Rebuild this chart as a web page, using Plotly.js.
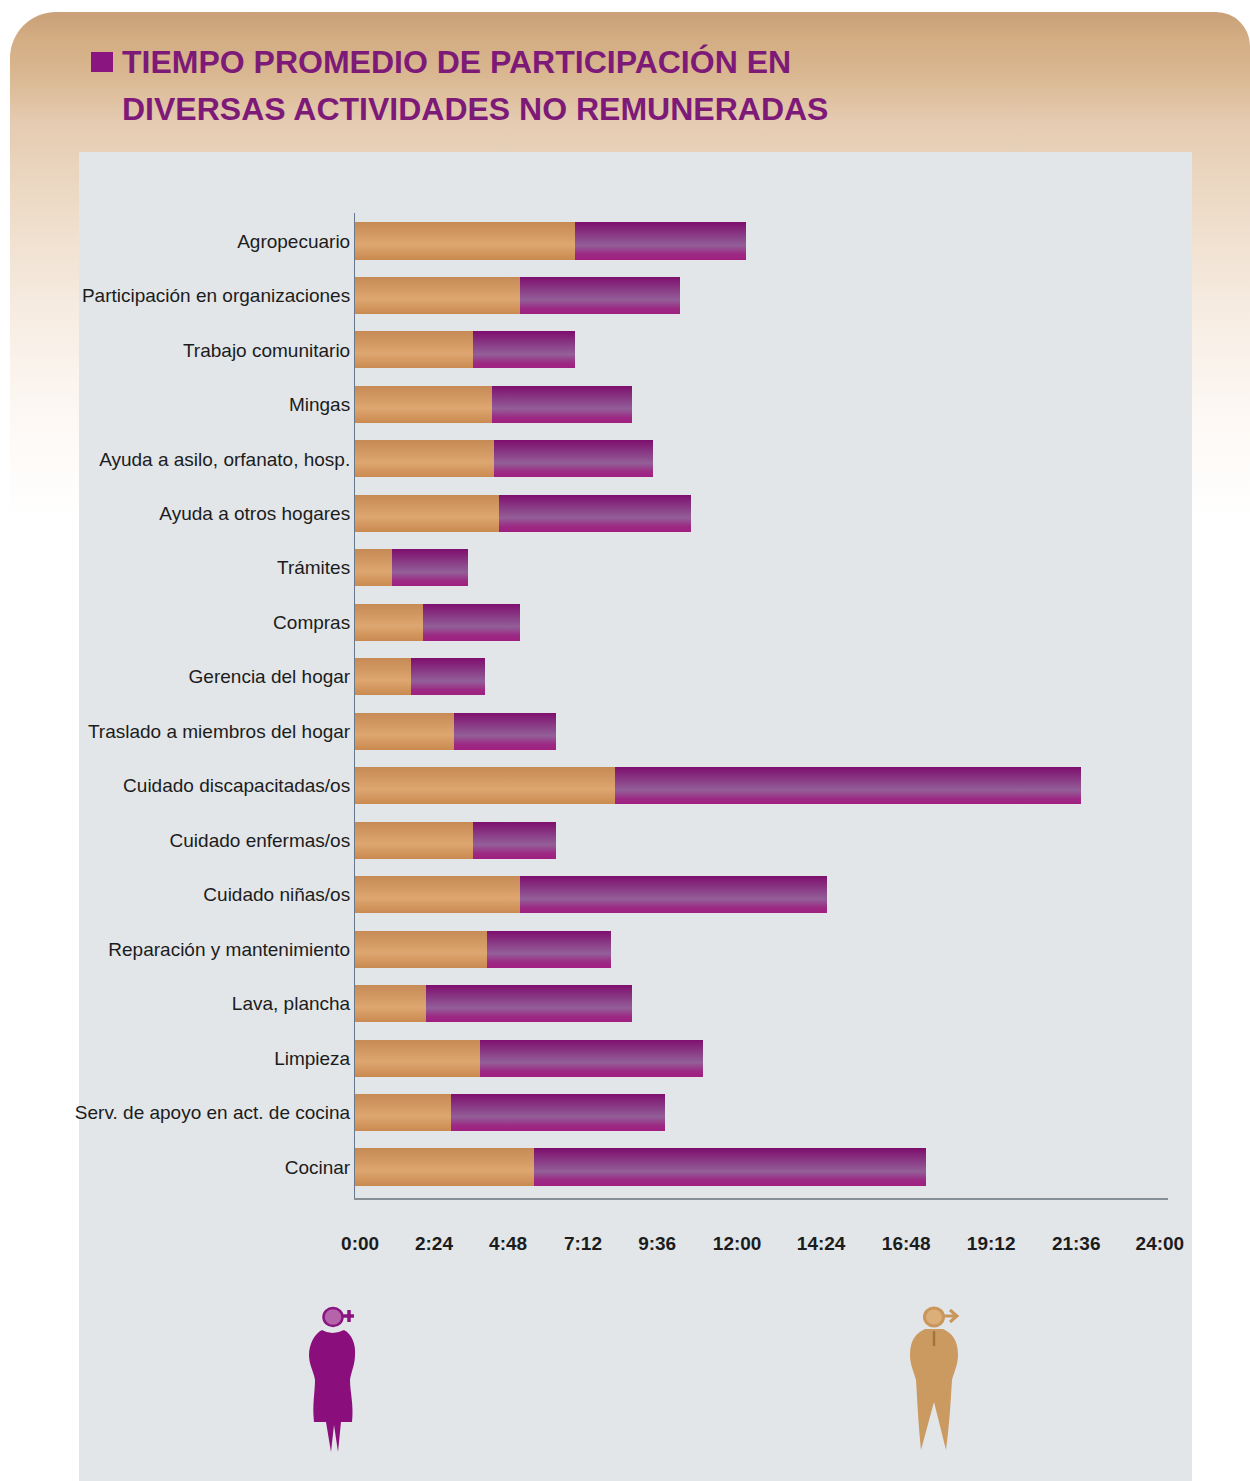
<!DOCTYPE html>
<html lang="es">
<head>
<meta charset="utf-8">
<title>Tiempo promedio de participación</title>
<script src="https://cdn.plot.ly/plotly-3.0.1.min.js"></script>
<style>
  html, body { margin: 0; padding: 0; background: #fff; }
  #page { position: relative; width: 1250px; height: 1481px; overflow: hidden; }
  #band { position: absolute; left: 10px; top: 12px; width: 1240px; height: 520px; border-radius: 46px 34px 0 0;
    background: linear-gradient(to bottom, #c9a079 0, #d3ac82 25px, #dab892 65px, #e5cbb1 110px, #ecd9c4 180px, #f6ebe0 290px, #fdf8f4 400px, #ffffff 510px); }
  #panel { position: absolute; left: 79px; top: 152px; width: 1113px; height: 1329px; background: #e2e6e9; }
  #bullet { position: absolute; left: 91px; top: 52px; width: 22px; height: 20px; background: #8a1580; }
  #chart, #figures { position: absolute; left: 0; top: 0; width: 1250px; height: 1481px; }
  #figures { pointer-events: none; }
</style>
</head>
<body>
<div id="page">
  <div id="band"></div>
  <div id="panel"></div>
  <div id="bullet"></div>
  <div id="chart"></div>
  <svg id="figures" viewBox="0 0 1250 1481">
    <defs>
      <linearGradient id="gradHombres" x1="0" y1="0" x2="0" y2="1">
        <stop offset="0" stop-color="#c68a55"/>
        <stop offset="0.6" stop-color="#dea670"/>
        <stop offset="1" stop-color="#c98a50"/>
      </linearGradient>
      <linearGradient id="gradMujeres" x1="0" y1="0" x2="0" y2="1">
        <stop offset="0" stop-color="#7e0f6e"/>
        <stop offset="0.62" stop-color="#935f98"/>
        <stop offset="0.85" stop-color="#9c2a84"/>
        <stop offset="1" stop-color="#a01f80"/>
      </linearGradient>
    </defs>
    <!-- Mujeres -->
    <g>
      <ellipse cx="333" cy="1317" rx="9.5" ry="9" fill="#b564ac" stroke="#8a1580" stroke-width="2.5"/>
      <path d="M342 1316h12M349 1310v12" stroke="#8a1580" stroke-width="3.5" fill="none"/>
      <path fill="#8a0f7c" d="M322 1330 Q332 1336 344 1330 C352 1334 356 1345 355 1355 C355 1365 351 1372 350 1380 C350 1392 354 1405 352 1422 L341 1422 L338 1452 L334 1425 L331 1452 L326 1422 L314 1422 C312 1405 315 1392 315 1380 C314 1372 309 1365 309 1355 C309 1345 314 1334 322 1330 Z"/>
    </g>
    <!-- Hombres -->
    <g>
      <ellipse cx="934" cy="1317" rx="9.5" ry="9" fill="#dcae78" stroke="#c9965c" stroke-width="3"/>
      <path d="M943 1316h14M950 1310l7 6l-7 6" stroke="#c9965c" stroke-width="3" fill="none"/>
      <path fill="#cb9a60" d="M925 1329 L943 1329 C952 1333 958 1340 958 1355 C958 1365 954 1372 952 1380 C951 1395 950 1420 946 1450 L934 1402 L921 1450 C918 1420 917 1395 916 1380 C914 1372 910 1365 910 1355 C910 1340 916 1333 925 1329 Z"/>
      <path d="M934 1331 L934 1346" stroke="#a0743f" stroke-width="2.5" fill="none"/>
    </g>
  </svg>
</div>
<script>
// Actividades no remuneradas, de arriba hacia abajo
const categorias = [
  "Agropecuario", "Participación en organizaciones", "Trabajo comunitario", "Mingas",
  "Ayuda a asilo, orfanato, hosp.", "Ayuda a otros hogares", "Trámites", "Compras",
  "Gerencia del hogar", "Traslado a miembros del hogar", "Cuidado discapacitadas/os",
  "Cuidado enfermas/os", "Cuidado niñas/os", "Reparación y mantenimiento",
  "Lava, plancha", "Limpieza", "Serv. de apoyo en act. de cocina", "Cocinar"
];

// Horas promedio por sexo
const hombres = [6.49, 4.87, 3.48, 4.04, 4.10, 4.25, 1.09, 2.01, 1.65, 2.92, 7.68, 3.48, 4.87, 3.90, 2.10, 3.69, 2.83, 5.28];
const mujeres = [5.05, 4.72, 3.01, 4.13, 4.69, 5.67, 2.24, 2.86, 2.18, 3.01, 13.76, 2.45, 9.06, 3.66, 6.08, 6.58, 6.32, 11.57];

// Los rótulos del eje van donde los imprime la lámina, con separación desigual
const posicionesEje = [0.15, 2.33, 4.52, 6.73, 8.92, 11.28, 13.76, 16.27, 18.78, 21.29, 23.76];
const rotulosEje = ["0:00", "2:24", "4:48", "7:12", "9:36", "12:00", "14:24", "16:48", "19:12", "21:36", "24:00"];

const tituloLinea1 = "TIEMPO PROMEDIO DE PARTICIPACIÓN EN";
const tituloLinea2 = "DIVERSAS ACTIVIDADES NO REMUNERADAS";

const colorMujeres = "#8a1580";
const colorHombres = "#cf9a62";
const colorTexto = "#1c1c1c";
const fuenteTitulo = { family: "Liberation Sans", size: 32, weight: 700, color: "#7d1a78" };

const trazas = [
  { type: "bar", orientation: "h", name: "Hombres", y: categorias, x: hombres, width: 0.68,
    marker: { color: colorHombres, line: { width: 0 } } },
  { type: "bar", orientation: "h", name: "Mujeres", y: categorias, x: mujeres, width: 0.68,
    marker: { color: colorMujeres, line: { width: 0 } } }
];

const disposicion = {
  width: 1250, height: 1481,
  margin: { l: 355, r: 82, t: 213, b: 283, pad: 0 },
  paper_bgcolor: "rgba(0,0,0,0)",
  plot_bgcolor: "rgba(0,0,0,0)",
  barmode: "stack",
  showlegend: false,
  hovermode: false,
  title: {
    text: tituloLinea1,
    x: 122 / 1250, xref: "container", xanchor: "left",
    y: 1 - 62 / 1481, yref: "container", yanchor: "middle",
    font: fuenteTitulo
  },
  annotations: [{
    text: tituloLinea2, showarrow: false,
    xref: "paper", yref: "paper",
    x: (122 - 355) / 813, xanchor: "left",
    y: 1 + (213 - 109) / 985, yanchor: "middle",
    xshift: -2,
    font: fuenteTitulo
  }],
  xaxis: {
    range: [0, 24], showgrid: false, zeroline: false,
    showline: true, linecolor: "#868e96", linewidth: 1.5,
    tickmode: "array", tickvals: posicionesEje, ticktext: rotulosEje,
    ticks: "", ticklabelstandoff: 28,
    tickfont: { family: "Liberation Sans", size: 19, weight: 700, color: colorTexto }
  },
  yaxis: {
    type: "category", range: [17.569, -0.514], showgrid: false, zeroline: false,
    showline: true, linecolor: "#66788c", linewidth: 1,
    ticks: "", ticklabelstandoff: 0,
    tickfont: { family: "Liberation Sans", size: 19, color: colorTexto }
  }
};

Plotly.newPlot("chart", trazas, disposicion, { displayModeBar: false, staticPlot: true }).then(function (grafico) {
  // Degradado vertical de cada barra
  const series = grafico.querySelectorAll(".barlayer .trace.bars");
  ["gradHombres", "gradMujeres"].forEach(function (id, i) {
    series[i].querySelectorAll(".point path").forEach(function (barra) {
      barra.style.fill = "url(#" + id + ")";
    });
  });
});
</script>
</body>
</html>
